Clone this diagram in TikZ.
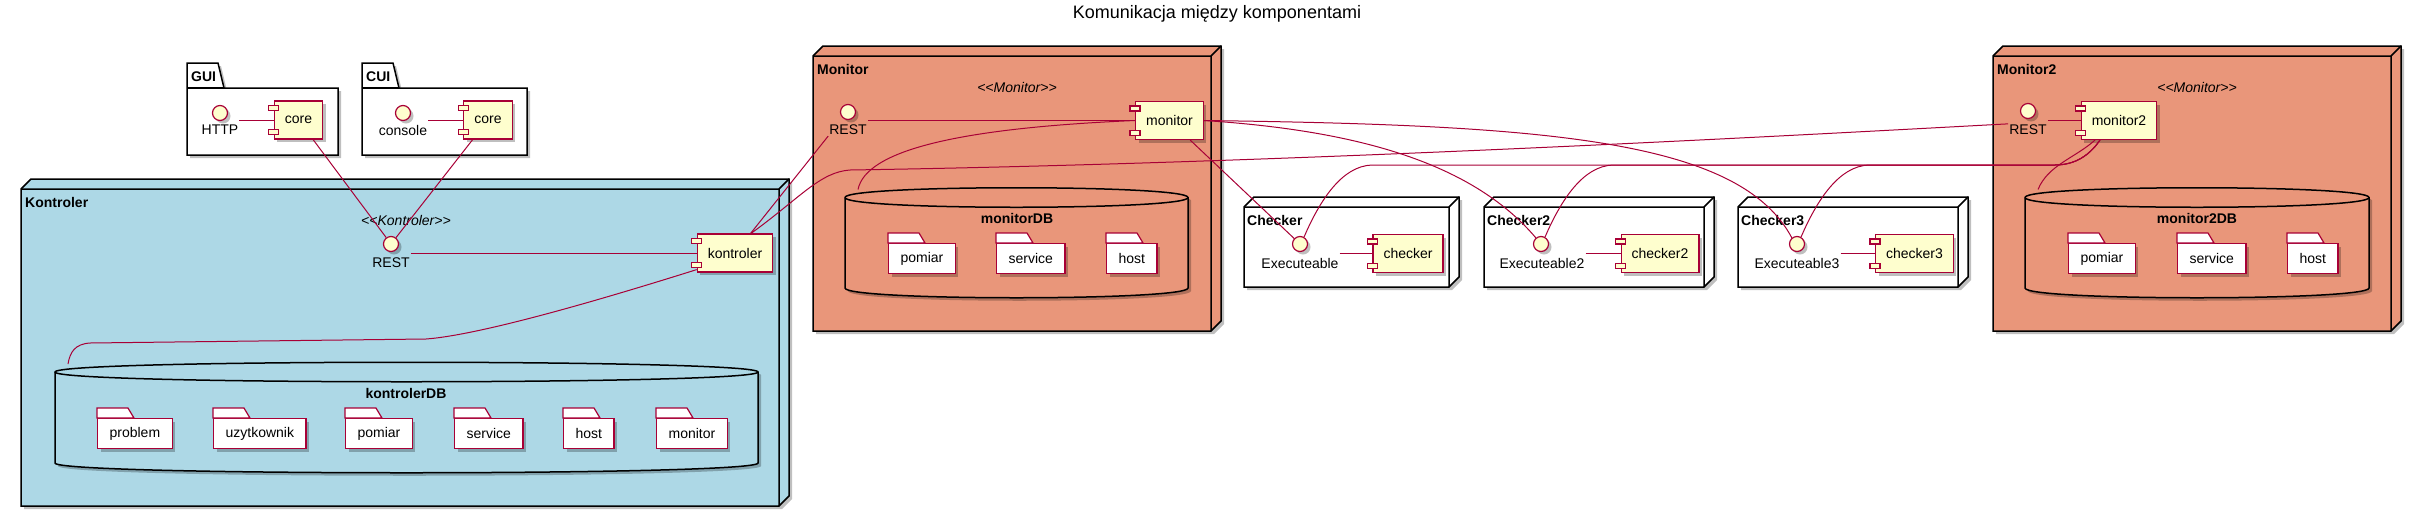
\documentclass[tikz,border=0pt]{standalone}
\usepackage{fontspec}
\setmainfont{Liberation Sans}
\usetikzlibrary{shadows}

\definecolor{umlred}{HTML}{A80036}
\definecolor{umlyellow}{HTML}{FEFECE}
\definecolor{kontblue}{HTML}{ADD8E6}
\definecolor{monsalmon}{HTML}{E9967A}

\tikzset{
    every node/.style={font=\fontsize{14}{16}\selectfont},
    shadowed/.style={drop shadow={shadow xshift=3pt, shadow yshift=-3pt, opacity=0.25, fill=black}},
    boxline/.style={draw=black, line width=1.5pt},
    comp/.style={draw=umlred, fill=umlyellow, line width=1.2pt, minimum height=38pt, inner xsep=10.5pt, shadowed},
    port/.style={draw=umlred, fill=umlyellow, line width=1.2pt},
    iface/.style={circle, draw=umlred, fill=umlyellow, line width=1.2pt, minimum size=15pt, inner sep=0pt, shadowed},
    ilabel/.style={inner sep=1pt},
    folder/.style={draw=umlred, fill=white, line width=1.2pt, minimum height=30pt, inner xsep=12pt, shadowed},
    tab/.style={draw=umlred, fill=white, line width=1.2pt},
    grouptitle/.style={font=\fontsize{14}{16}\selectfont\bfseries, anchor=west, inner sep=0pt},
    stereo/.style={font=\fontsize{14}{16}\selectfont\itshape},
    dbtitle/.style={font=\fontsize{14}{16}\selectfont\bfseries},
    link/.style={draw=umlred, line width=1pt},
}

\newcommand{\deploybox}[5]{%
    \filldraw [boxline, fill=#5, shadowed] (#1, #2+10) -- (#1+10, #2) -- (#3+10, #2) -- (#3+10, #4-10) -- (#3, #4) -- (#1, #4) -- cycle;
    \draw [boxline] (#1, #2+10) -- (#3, #2+10) -- (#3+10, #2) (#3, #2+10) -- (#3, #4);
}
\newcommand{\pkgbox}[4]{%
    \filldraw [boxline, fill=white, shadowed] (#1, #2) -- (#1+31, #2) -- (#1+37, #2+25) -- (#3, #2+25) -- (#3, #4) -- (#1, #4) -- cycle;
    \draw [boxline] (#1, #2+25) -- (#1+37, #2+25);
}
\newcommand{\dbcyl}[6]{%
    \filldraw [boxline, fill=#6, shadowed] (#2, #4) -- (#2, #5) .. controls (#2, #5+13) and (#3, #5+13) .. (#3, #5) -- (#3, #4) .. controls (#3, #4-13) and (#2, #4-13) .. (#2, #4) -- cycle;
    \draw [boxline] (#2, #4) .. controls (#2, #4+13) and (#3, #4+13) .. (#3, #4);
    \coordinate (#1) at (#2+13, #4-8);
}
\newcommand{\dbfolder}[4]{%
    \path (#2, #3) node [folder, anchor=north west] (#1) {#4\hspace{6pt}};
    \filldraw [tab] (#1.north west) -- ++(0, -10) -- ++(31, 0) -- ++(6, 10) -- cycle;
}
\newcommand{\compports}[1]{%
    \filldraw [port] (#1.north west) ++(-5, 5) rectangle ++(10, 5);
    \filldraw [port] (#1.south west) ++(-5, -10) rectangle ++(10, 5);
}

\begin{document}
\begin{tikzpicture}[x=1pt, y=-1pt]
    \useasboundingbox (0, 0) rectangle (2434, 531);
    \path (1217, 18) node [anchor=base, font=\fontsize{18}{22}\selectfont] (ttl) {Komunikacja między komponentami};

    \pkgbox{187}{63}{338}{155}
    \path (191, 77) node [grouptitle] (guit) {GUI};
    \path (220, 113) node [iface] (http) {};
    \path (220, 130) node [ilabel] (httpt) {HTTP};
    \path (298.5, 120) node [comp] (core) {core};
    \compports{core}

    \pkgbox{362}{63}{527}{155}
    \path (366, 77) node [grouptitle] (cuit) {CUI};
    \path (403, 113) node [iface] (cons) {};
    \path (403, 130) node [ilabel] (const) {console};
    \path (488, 120) node [comp] (ccore) {core};
    \compports{ccore}

    \deploybox{21}{179}{779}{506}{kontblue}
    \path (25, 202) node [grouptitle] (kontt) {Kontroler};
    \path (406, 220) node [stereo] (kontst) {<{}<Kontroler>{}>};
    \path (391, 244) node [iface] (krest) {};
    \path (391, 263) node [ilabel] (krestt) {REST};
    \path (735, 253) node [comp] (kont) {kontroler};
    \compports{kont}
    \dbcyl{kdb}{55}{758}{372}{463}{kontblue}
    \path (406, 393) node [dbtitle] (kdbt) {kontrolerDB};
    \dbfolder{kproblem}{97}{418}{problem}
    \dbfolder{kuser}{213}{418}{uzytkownik}
    \dbfolder{kpomiar}{345}{418}{pomiar}
    \dbfolder{kservice}{454}{418}{service}
    \dbfolder{khost}{563}{418}{host}
    \dbfolder{kmonitor}{656}{418}{monitor}

    \deploybox{813}{46}{1211}{331}{monsalmon}
    \path (817, 69) node [grouptitle] (mont) {Monitor};
    \path (1017, 87) node [stereo] (monst) {<{}<Monitor>{}>};
    \path (848, 112) node [iface] (mrest) {};
    \path (848, 130) node [ilabel] (mrestt) {REST};
    \path (1169.5, 120.5) node [comp] (mon) {monitor};
    \compports{mon}
    \dbcyl{mdb}{845}{1188}{197.5}{288}{monsalmon}
    \path (1017, 218) node [dbtitle] (mdbt) {monitorDB};
    \dbfolder{mpomiar}{888}{243}{pomiar}
    \dbfolder{mservice}{996}{243}{service}
    \dbfolder{mhost}{1106}{243}{host}

    \deploybox{1244}{197}{1449}{287}{white}
    \path (1247, 220.5) node [grouptitle] (chkt) {Checker};
    \path (1300, 244) node [iface] (exe) {};
    \path (1300, 263) node [ilabel] (exet) {Executeable};
    \path (1408, 253.5) node [comp] (chk) {checker};
    \compports{chk}

    \deploybox{1484}{197}{1704}{287}{white}
    \path (1487, 220.5) node [grouptitle] (chk2t) {Checker2};
    \path (1541, 244) node [iface] (exe2) {};
    \path (1542, 263) node [ilabel] (exe2t) {Executeable2};
    \path (1660, 253.5) node [comp] (chk2) {checker2};
    \compports{chk2}

    \deploybox{1738}{197}{1958}{287}{white}
    \path (1741, 220.5) node [grouptitle] (chk3t) {Checker3};
    \path (1797, 244) node [iface] (exe3) {};
    \path (1797, 263) node [ilabel] (exe3t) {Executeable3};
    \path (1914.5, 253.5) node [comp] (chk3) {checker3};
    \compports{chk3}

    \deploybox{1993}{46}{2391}{331}{monsalmon}
    \path (1997, 69) node [grouptitle] (mon2t) {Monitor2};
    \path (2197, 87) node [stereo] (mon2st) {<{}<Monitor>{}>};
    \path (2028, 111) node [iface] (m2rest) {};
    \path (2028, 130) node [ilabel] (m2restt) {REST};
    \path (2119, 120.5) node [comp] (mon2) {monitor2};
    \compports{mon2}
    \dbcyl{m2db}{2025}{2369}{197.5}{288}{monsalmon}
    \path (2197, 218) node [dbtitle] (m2dbt) {monitor2DB};
    \dbfolder{m2pomiar}{2068}{243}{pomiar}
    \dbfolder{m2service}{2177}{243}{service}
    \dbfolder{m2host}{2287}{243}{host}

    \draw [link] (httpt.east |- core.west) -- (core.west);
    \draw [link] (const.east |- ccore.west) -- (ccore.west);
    \draw [link] (core) -- (krest);
    \draw [link] (ccore) -- (krest);
    \draw [link] (krestt.east |- kont.west) -- (kont.west);
    \draw [link] ([yshift=3pt]kont.south west) .. controls (600, 300) and (480, 335) .. (426, 339) -- (90, 343) .. controls (75, 344) and (70, 352) .. (kdb);
    \draw [link] (kont) -- (mrestt.south west);
    \draw [link] ([xshift=16pt]kont.north) .. controls (800, 198) and (820, 172) .. (850, 170) .. controls (1300, 163) and (1800, 135) .. (m2restt.north west);
    \draw [link] (mrestt.east |- mon.west) -- (mon.west);
    \draw [link] (mon.west) .. controls (960, 128) and (866, 150) .. (mdb);
    \draw [link] (mon) -- (exe);
    \draw [link] (mon.east) .. controls (1350, 130) and (1470, 160) .. (exe2.130);
    \draw [link] (mon.east) .. controls (1550, 125) and (1740, 140) .. (exe3.130);
    \draw [link] (exet.east |- chk.west) -- (chk.west);
    \draw [link] (exe2t.east |- chk2.west) -- (chk2.west);
    \draw [link] (exe3t.east |- chk3.west) -- (chk3.west);
    \draw [link] (exe.60) .. controls (1320, 200) and (1342, 166) .. (1372, 165) -- (2055, 165) .. controls (2080, 165) and (2093, 150) .. ([xshift=-19pt]mon2.south);
    \draw [link] (exe2.60) .. controls (1561, 200) and (1583, 166) .. (1613, 165) -- (2055, 165) .. controls (2080, 165) and (2093, 150) .. ([xshift=-19pt]mon2.south);
    \draw [link] (exe3.60) .. controls (1817, 200) and (1839, 166) .. (1869, 165) -- (2055, 165) .. controls (2080, 165) and (2093, 150) .. ([xshift=-19pt]mon2.south);
    \draw [link] (m2restt.east |- mon2.west) -- (mon2.west);
    \draw [link] ([xshift=-24pt]mon2.south) .. controls (2075, 158) and (2048, 165) .. (m2db);
\end{tikzpicture}
\end{document}
